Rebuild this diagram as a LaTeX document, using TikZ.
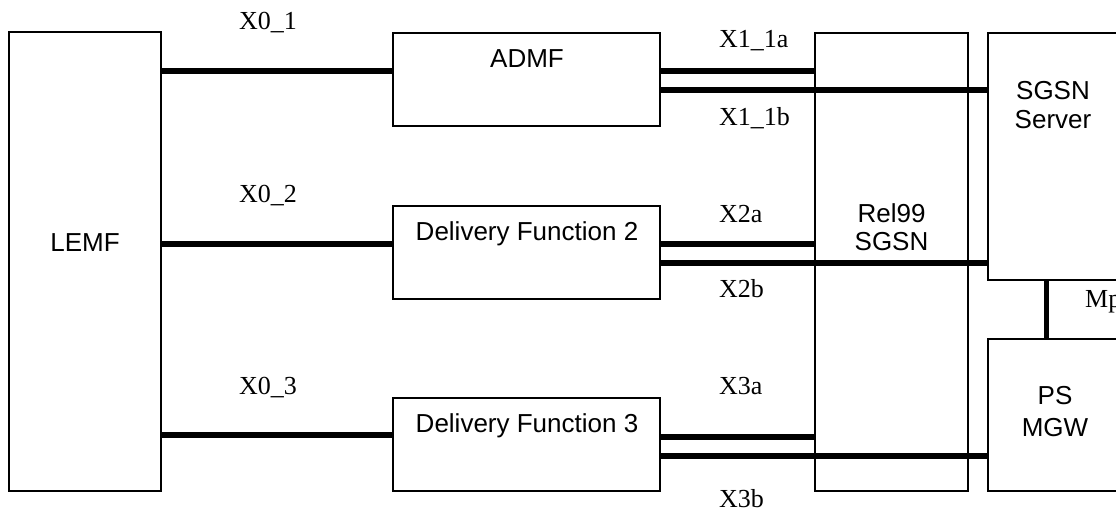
\documentclass[tikz,border=0pt]{standalone}
\usepackage{fontspec}
\setmainfont{Liberation Serif}
\newfontfamily\xlab{Liberation Serif}
\newfontfamily\boxfont{Liberation Sans}
\begin{document}
\begin{tikzpicture}[x=1pt,y=-1pt,
  box/.style={draw=black,line width=1.2pt,fill=white,inner sep=0pt},
  link/.style={line width=5.5pt,line cap=butt},
  btxt/.style={font=\boxfont\fontsize{26}{30}\selectfont,anchor=base,inner sep=0pt},
  xtxt/.style={font=\xlab\fontsize{26}{30}\selectfont,anchor=base west,inner sep=0pt}]
\useasboundingbox (0,0) rectangle (1116,517);
\clip (0,0) rectangle (1116,517);
% boxes
\node[box,minimum width=152pt,minimum height=459pt] (lemf) at (85,261.5) {};
\node[box,minimum width=267pt,minimum height=93pt] (admf) at (526.5,79.5) {};
\node[box,minimum width=267pt,minimum height=93pt] (df2) at (526.5,252.5) {};
\node[box,minimum width=267pt,minimum height=93pt] (df3) at (526.5,444.5) {};
\node[box,minimum width=153pt,minimum height=458pt] (rel) at (891.5,262) {};
\node[box,minimum width=132pt,minimum height=247pt] (srv) at (1054,156.5) {};
\node[box,minimum width=132pt,minimum height=152pt] (mgw) at (1054,415) {};
% box texts
\node[btxt] (tlemf) at (85,251) {LEMF};
\node[btxt] (tadmf) at (527,67) {ADMF};
\node[btxt] (tdf2) at (527,240) {Delivery Function 2};
\node[btxt] (tdf3) at (527,432) {Delivery Function 3};
\node[btxt] (trel1) at (891.5,222) {Rel99};
\node[btxt] (trel2) at (891.5,250) {SGSN};
\node[btxt] (tsrv1) at (1053,99) {SGSN};
\node[btxt] (tsrv2) at (1053,128) {Server};
\node[btxt] (tmgw1) at (1055,404) {PS};
\node[btxt] (tmgw2) at (1055,436) {MGW};
% X0 links
\draw[link] (lemf.east |- 0,71) -- (admf.west |- 0,71);
\draw[link] (lemf.east |- 0,244) -- (df2.west |- 0,244);
\draw[link] (lemf.east |- 0,435) -- (df3.west |- 0,435);
% X1/X2/X3 links
\draw[link] (admf.east |- 0,71) -- (rel.west |- 0,71);
\draw[link] (admf.east |- 0,90) -- (srv.west |- 0,90);
\draw[link] (df2.east |- 0,244) -- (rel.west |- 0,244);
\draw[link] (df2.east |- 0,263) -- (srv.west |- 0,263);
\draw[link] (df3.east |- 0,437) -- (rel.west |- 0,437);
\draw[link] (df3.east |- 0,456) -- (mgw.west |- 0,456);
% Mp
\draw[link,line width=5pt] (srv.south -| 1046,0) -- (mgw.north -| 1046,0);
% labels
\node[xtxt] (l01) at (239,29) {X0\_1};
\node[xtxt] (l02) at (239,202) {X0\_2};
\node[xtxt] (l03) at (239,394) {X0\_3};
\node[xtxt] (l11a) at (719,47) {X1\_1a};
\node[xtxt] (l11b) at (719,125) {X1\_1b};
\node[xtxt] (l2a) at (719,222) {X2a};
\node[xtxt] (l2b) at (719,297) {X2b};
\node[xtxt] (l3a) at (719,394) {X3a};
\node[xtxt] (l3b) at (719,507) {X3b};
\node[xtxt] (lmp) at (1085,307) {Mp};
\end{tikzpicture}
\end{document}
